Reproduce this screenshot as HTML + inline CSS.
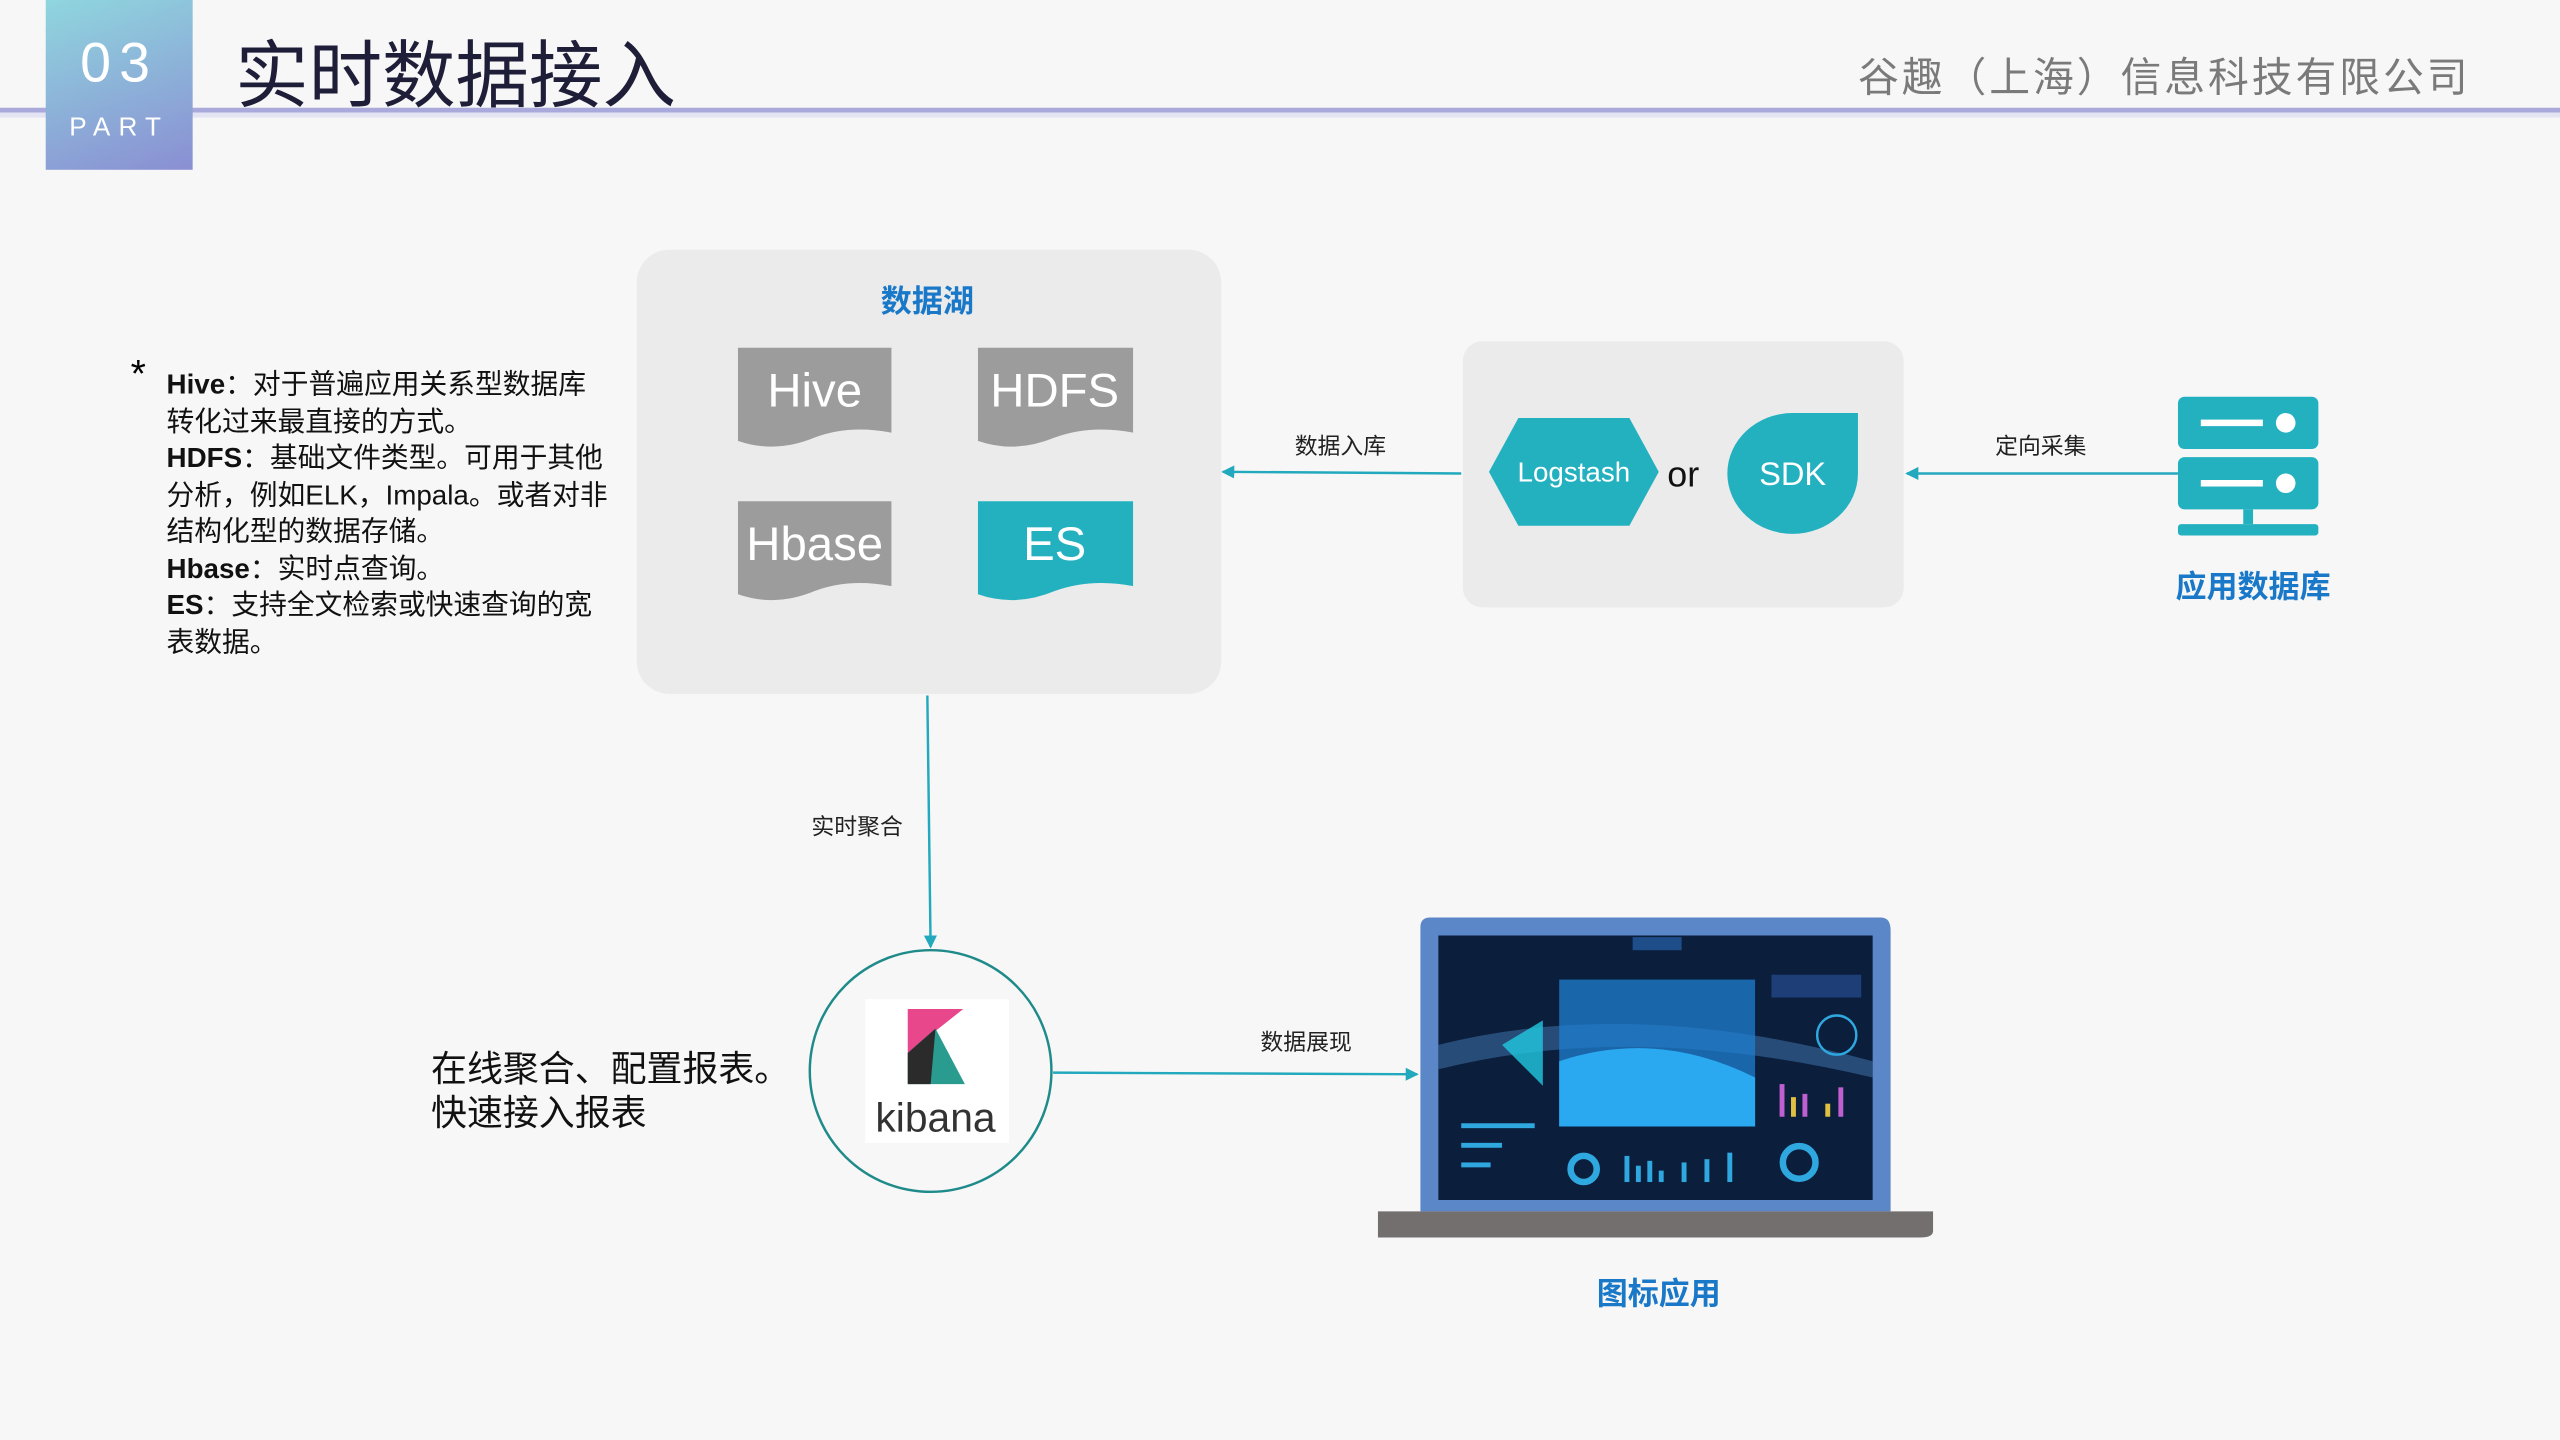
<!DOCTYPE html>
<html><head><meta charset="utf-8">
<style>
html,body{margin:0;padding:0;width:2560px;height:1440px;overflow:hidden;background:#f7f7f7;}
#c{position:absolute;left:0;top:0;width:1568px;height:882px;transform:scale(1.63265);transform-origin:0 0;font-family:"Liberation Sans","Noto Sans CJK SC",sans-serif;}
.a{position:absolute;}
.lbl{position:absolute;font-size:14px;color:#222;white-space:nowrap;transform:translateX(-50%);}
.blue{position:absolute;color:#1a78c8;font-weight:bold;font-size:19px;white-space:nowrap;transform:translateX(-50%);}
.notes{position:absolute;left:102px;top:225px;font-size:17px;line-height:22.5px;color:#111;width:272px;}
.notes b{font-weight:bold;}
</style></head><body><div id="c">
<div class="a" style="left:0;top:66px;width:1568px;height:3px;background:#a9a9dc"></div>
<div class="a" style="left:0;top:69px;width:1568px;height:3px;background:#e3e3f3"></div>
<div class="a" style="left:28px;top:0;width:90px;height:104px;background:linear-gradient(160deg,#8fd6de,#8a8fd3)"></div>
<div class="a" style="left:28px;top:20px;width:90px;text-align:center;color:#fff;font-size:34px;letter-spacing:5px">03</div>
<div class="a" style="left:28px;top:70px;width:90px;text-align:center;color:#fff;font-size:16px;letter-spacing:5px">PART</div>
<div class="a" style="left:144px;top:10px;font-size:45px;color:#1e1e38">实时数据接入</div>
<div class="a" style="left:1138px;top:28px;font-size:25px;color:#7a7a7a;letter-spacing:1.8px">谷趣（上海）信息科技有限公司</div>

<div class="a" style="left:80px;top:216px;font-size:24px">*</div>
<div class="notes"><b>Hive</b>：对于普遍应用关系型数据库转化过来最直接的方式。<br><b>HDFS</b>：基础文件类型。可用于其他分析，例如ELK，Impala。或者对非结构化型的数据存储。<br><b>Hbase</b>：实时点查询。<br><b>ES</b>：支持全文检索或快速查询的宽表数据。</div>

<div class="a" style="left:390px;top:153px;width:358px;height:272px;background:#ebebeb;border-radius:20px"></div>
<div class="blue" style="left:568px;top:170px">数据湖</div>
<svg class="a" style="left:0;top:0" width="1568" height="882">
<defs><marker id="m" markerWidth="8" markerHeight="8" refX="7" refY="4" orient="auto" markerUnits="userSpaceOnUse"><path d="M0,0 L8,4 L0,8 z" fill="#23a9bd"/></marker></defs>
<g>
<path d="M452,213 H546 V265 Q520,260 499,268 Q475,278 452,270 Z" fill="#9c9c9c"/>
<path d="M599,213 H694 V265 Q668,260 646,268 Q622,278 599,270 Z" fill="#9c9c9c"/>
<path d="M452,307 H546 V359 Q520,354 499,362 Q475,372 452,364 Z" fill="#9c9c9c"/>
<path d="M599,307 H694 V359 Q668,354 646,362 Q622,372 599,364 Z" fill="#23b1c0"/>
</g>
<g font-family="Liberation Sans, sans-serif" font-size="29" fill="#fff" text-anchor="middle">
<text x="499" y="249">Hive</text><text x="646" y="249">HDFS</text>
<text x="499" y="343">Hbase</text><text x="646" y="343">ES</text>
</g>
<rect x="896" y="209" width="270" height="163" rx="12" fill="#ebebeb"/>
<polygon points="930,256 998,256 1016,289 998,322 930,322 912,289" fill="#23b1c0"/>
<text x="964" y="295" font-family="Liberation Sans, sans-serif" font-size="17" fill="#fff" text-anchor="middle">Logstash</text>
<text x="1031" y="298" font-family="Liberation Sans, sans-serif" font-size="22" fill="#111" text-anchor="middle">or</text>
<path d="M1098,253 H1138 V290 A40,37 0 1 1 1098,253 Z" fill="#23b1c0"/>
<text x="1098" y="297" font-family="Liberation Sans, sans-serif" font-size="20" fill="#fff" text-anchor="middle">SDK</text>
<rect x="1334" y="243" width="86" height="32" rx="4" fill="#23b1c0"/>
<rect x="1334" y="280" width="86" height="32" rx="4" fill="#23b1c0"/>
<rect x="1348" y="257" width="38" height="4" fill="#fff"/><circle cx="1400" cy="259" r="6" fill="#fff"/>
<rect x="1348" y="294" width="38" height="4" fill="#fff"/><circle cx="1400" cy="296" r="6" fill="#fff"/>
<rect x="1374" y="312" width="6" height="9" fill="#23b1c0"/>
<rect x="1334" y="321" width="86" height="7" rx="2" fill="#23b1c0"/>
<g stroke="#23a9bd" stroke-width="1.5" fill="none">
<line x1="1334" y1="290" x2="1168" y2="290" marker-end="url(#m)"/>
<line x1="895" y1="290" x2="749" y2="289" marker-end="url(#m)"/>
<line x1="568" y1="426" x2="570" y2="580" marker-end="url(#m)"/>
<line x1="645" y1="657" x2="868" y2="658" marker-end="url(#m)"/>
</g>
<circle cx="570" cy="656" r="74" fill="#f7f7f7" stroke="#1f8a8a" stroke-width="1.5"/>
<rect x="530" y="612" width="88" height="88" fill="#fff"/>
<polygon points="556,618 590,618 556,645" fill="#e8478b"/>
<polygon points="556,645 573,630 591,664 556,664" fill="#2a9b8f"/>
<polygon points="556,645 573,630 570,664 556,664" fill="#2b2b2b"/>
<text x="573" y="693" font-family="Liberation Sans, sans-serif" font-size="25" fill="#333" text-anchor="middle">kibana</text>
<path d="M876,562 H1152 Q1158,562 1158,570 V742 H870 V568 Q870,562 876,562 Z" fill="#5b86c8"/>
<rect x="881" y="573" width="266" height="162" fill="#0b1e3c"/>
<path d="M881,640 Q1000,610 1147,650 V660 Q1000,625 881,655 Z" fill="#3a6aa0" opacity="0.6"/>
<rect x="955" y="600" width="120" height="90" fill="#1f7fd0" opacity="0.75"/>
<path d="M955,650 Q1015,630 1075,660 V690 H955 Z" fill="#2aa8f0"/>
<rect x="1000" y="574" width="30" height="8" fill="#1e4e8a"/>
<rect x="1085" y="597" width="55" height="14" fill="#1e3e78"/>
<rect x="895" y="688" width="45" height="3" fill="#2fa8e0"/><rect x="895" y="700" width="25" height="3" fill="#2fa8e0"/><rect x="895" y="712" width="18" height="3" fill="#2fa8e0"/>
<polygon points="920,640 945,625 945,665" fill="#22c8e0" opacity="0.8"/>
<g fill="#2fa8e0"><rect x="995" y="708" width="3" height="16"/><rect x="1002" y="714" width="3" height="10"/><rect x="1009" y="711" width="3" height="13"/><rect x="1016" y="717" width="3" height="7"/><rect x="1030" y="712" width="3" height="12"/><rect x="1044" y="710" width="3" height="14"/><rect x="1058" y="706" width="3" height="18"/></g>
<g fill="#c060d0"><rect x="1090" y="664" width="3" height="20"/><rect x="1104" y="670" width="3" height="14"/><rect x="1126" y="666" width="3" height="18"/></g>
<g fill="#e0c040"><rect x="1097" y="672" width="3" height="12"/><rect x="1118" y="676" width="3" height="8"/></g>
<circle cx="970" cy="716" r="8" fill="none" stroke="#2fa8e0" stroke-width="4"/>
<circle cx="1102" cy="712" r="10" fill="none" stroke="#2fa8e0" stroke-width="4"/>
<circle cx="1125" cy="634" r="12" fill="none" stroke="#2fa8e0" stroke-width="1.5"/>
<path d="M844,742 H1184 V754 Q1184,758 1176,758 H844 Z" fill="#736f6f"/>
</svg>
<div class="lbl" style="left:1250px;top:263px">定向采集</div>
<div class="lbl" style="left:821px;top:263px">数据入库</div>
<div class="lbl" style="left:525px;top:496px">实时聚合</div>
<div class="lbl" style="left:800px;top:628px">数据展现</div>
<div class="blue" style="left:1380px;top:345px">应用数据库</div>
<div class="blue" style="left:1016px;top:778px">图标应用</div>
<div class="a" style="left:264px;top:641px;font-size:22px;line-height:27px;color:#111">在线聚合、配置报表。<br>快速接入报表</div>
</div></body></html>
